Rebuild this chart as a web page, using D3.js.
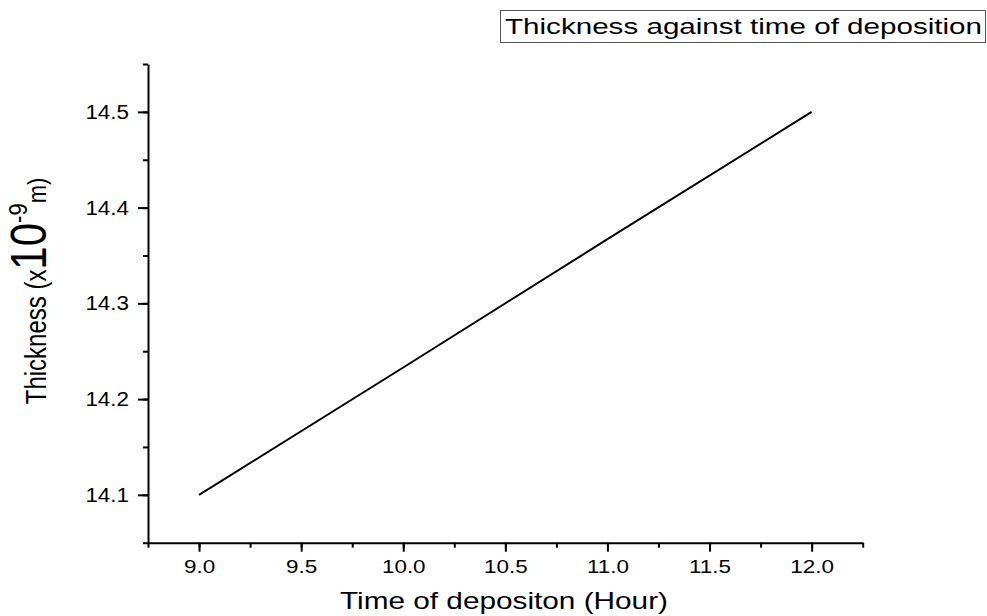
<!DOCTYPE html>
<html>
<head>
<meta charset="utf-8">
<script src="https://cdn.jsdelivr.net/npm/d3@7"></script>
<style>
  body { margin: 0; background: #fff; }
  svg { display: block; font-family: "Liberation Sans", Arial, sans-serif; }
</style>
</head>
<body>
<svg id="canvas"></svg>
<script>
// thickness vs deposition time
let hours = [9, 10, 11, 12];
let thickness = [14.1, 14.233, 14.367, 14.5];
let xTicks = [9.0, 9.5, 10.0, 10.5, 11.0, 11.5, 12.0];
let yTicks = [14.1, 14.2, 14.3, 14.4, 14.5];

let width = 987;
let height = 616;
let plotLeft = 148, plotRight = 862.7, plotTop = 64, plotBottom = 542.7;

const canvas = d3.select('#canvas').attr('width', width).attr('height', height);

const x = d3.scaleLinear().domain([8.75, 12.25]).range([plotLeft, plotRight]);
const y = d3.scaleLinear().domain([14.05, 14.55]).range([plotBottom, plotTop]);

// stretch text a bit wider, the source picture is squashed
const stretch = (sel, k) => {
    sel.each(function () {
        let w = this.getComputedTextLength();
        d3.select(this).attr('textLength', w * k).attr('lengthAdjust', 'spacingAndGlyphs');
    });
};

// minor ticks first
canvas.append('g')
    .attr('transform', `translate(0,${plotBottom})`)
    .call(d3.axisBottom(x).tickValues(d3.range(8.75, 12.26, 0.25)).tickSize(5).tickFormat(''))
    .call(g => g.select('.domain').remove())
    .selectAll('line').attr('stroke-width', 2);

canvas.append('g')
    .attr('transform', `translate(${plotLeft},0)`)
    .call(d3.axisLeft(y).tickValues(d3.range(14.05, 14.551, 0.05)).tickSize(5).tickFormat(''))
    .call(g => g.select('.domain').remove())
    .selectAll('line').attr('stroke-width', 2);

const xAxis = canvas.append('g')
    .attr('transform', `translate(0,${plotBottom})`)
    .call(d3.axisBottom(x).tickValues(xTicks).tickSize(9).tickSizeOuter(0).tickPadding(8).tickFormat(d3.format('.1f')));
xAxis.select('.domain').attr('stroke-width', 2);
xAxis.selectAll('line').attr('stroke-width', 2);
xAxis.selectAll('text').attr('font-size', 19).attr('fill', '#000').attr('font-family', 'Liberation Sans, Arial, sans-serif')
    .call(stretch, 1.18);

const yAxis = canvas.append('g')
    .attr('transform', `translate(${plotLeft},0)`)
    .call(d3.axisLeft(y).tickValues(yTicks).tickSize(10).tickSizeOuter(0).tickPadding(9).tickFormat(d3.format('.1f')));
yAxis.select('.domain').attr('stroke-width', 2);
yAxis.selectAll('line').attr('stroke-width', 2);
yAxis.selectAll('text').attr('font-size', 20).attr('fill', '#000').attr('font-family', 'Liberation Sans, Arial, sans-serif')
    .call(stretch, 1.12);

// the line
const line = d3.line().x((d, i) => x(hours[i])).y(d => y(d));
canvas.append('path')
    .datum(thickness)
    .attr('d', line)
    .attr('fill', 'none')
    .attr('stroke', '#000')
    .attr('stroke-width', 2);

// x label
canvas.append('text')
    .attr('x', 504).attr('y', 609)
    .attr('text-anchor', 'middle')
    .attr('font-size', 24)
    .attr('textLength', 328).attr('lengthAdjust', 'spacingAndGlyphs')
    .text('Time of depositon (Hour)');

// y label with big 10 and superscript (glyphs widened like the rest of the picture)
const yl = canvas.append('text')
    .attr('transform', 'translate(46,291) scale(1.2,1) rotate(-90)')
    .attr('text-anchor', 'middle')
    .attr('font-size', 24);
yl.append('tspan').text('Thickness (x');
yl.append('tspan').attr('font-size', 42).text('10');
yl.append('tspan').attr('font-size', 22).attr('dy', -16).text('-9');
yl.append('tspan').attr('font-size', 22).attr('dy', 16).text('m)');

// title box
canvas.append('rect')
    .attr('x', 500.5).attr('y', 10.5).attr('width', 485).attr('height', 32)
    .attr('fill', '#fff').attr('stroke', '#555').attr('stroke-width', 1);
canvas.append('text')
    .attr('x', 505).attr('y', 34)
    .attr('font-size', 22)
    .attr('textLength', 477).attr('lengthAdjust', 'spacingAndGlyphs')
    .text('Thickness against time of deposition');
</script>
</body>
</html>
